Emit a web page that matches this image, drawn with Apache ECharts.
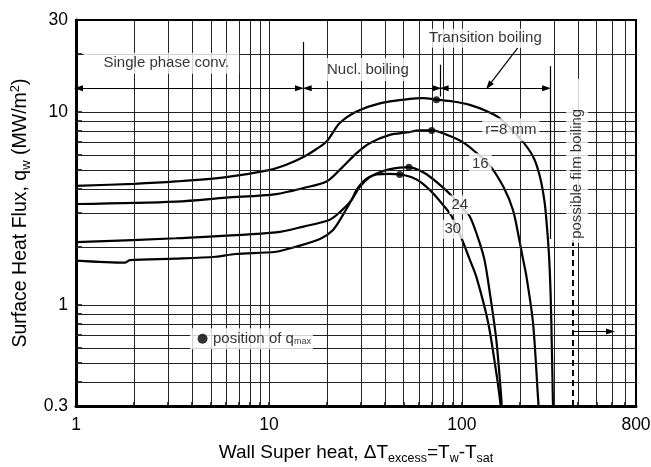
<!DOCTYPE html>
<html><head><meta charset="utf-8">
<script src="https://cdn.jsdelivr.net/npm/echarts@6/dist/echarts.min.js"></script>
<style>html,body{margin:0;padding:0;background:#fff}#c{width:651px;height:467px}</style>
</head><body><div id="c"></div>
<script>
// ---- data ----
const curveR8 = [[1,4.15],[2,4.25],[3.3,4.37],[6,4.6],[10,5.0],[12.3,5.33],[15.1,5.85],[17.5,6.4],[19.9,7.04],[23.3,8.77],[28.5,10.07],[37.6,11.1],[53.8,11.7],[63,11.8],[73.9,11.6],[90,11.35],[110,10.9],[135,10.1],[157,9.3],[200,7.33],[234,5.89],[254,4.64],[269,3.38],[278,2.36],[284,1.72],[289,1.1],[293,0.6],[297,0.3]];
const curveR16 = [[1,3.34],[3.3,3.44],[6,3.6],[10.9,3.76],[15.1,4.04],[19.9,4.37],[23.3,5.02],[28.5,6.13],[33.3,6.9],[42.3,7.62],[51.7,7.84],[60.7,8.03],[69.8,8.03],[90,7.4],[103,6.9],[116.8,6.25],[139,5.33],[164,4.11],[184,3.12],[198,2.22],[206,1.8],[216,1.42],[234,0.81],[248,0.34],[250,0.3]];
const curveR24 = [[1,2.12],[3.3,2.22],[10.9,2.38],[15.1,2.55],[20.7,2.77],[23.5,3.05],[26.8,3.5],[29.6,4.1],[33.3,4.6],[37,4.85],[42,5.05],[47.7,5.16],[53.2,5.18],[60,5.0],[66,4.75],[77,4.2],[88.3,3.7],[100,3.2],[110,2.88],[121,2.25],[131,1.72],[139,1.2],[151,0.66],[160,0.336],[161,0.3]];
const curveR30 = [[1,1.70],[1.8,1.66],[1.9,1.71],[3.3,1.74],[5.3,1.78],[6.7,1.84],[10.9,1.89],[13.9,2.01],[18.4,2.2],[21.5,2.45],[24.3,2.95],[26.8,3.5],[28.5,3.95],[30.8,4.37],[33,4.6],[36.2,4.75],[42,4.78],[47.7,4.75],[55,4.6],[62,4.3],[70.9,3.8],[80,3.3],[88.3,2.9],[100,2.2],[110,1.72],[119,1.4],[137,0.81],[151,0.445],[157,0.336],[159,0.3]];
const qmaxX = [73.9, 69.8, 53.2, 47.7];
const qmaxY = [11.6, 8.03, 5.18, 4.75];
const xTickLabels = [1, 10, 100, 800];
const yTickLabels = [0.3, 1, 10, 30];
const xTickValues = [1,2,3,4,5,6,7,8,9,10,20,30,40,50,60,70,80,90,100,200,300,400,500,600,700,800];
const yTickValues = [0.3,0.4,0.5,0.6,0.7,0.8,0.9,1,2,3,4,5,6,7,8,9,10,20,30];
const xGridValues = [2,3,4,5,6,7,8,9,10,20,30,40,50,60,70,80,90,100,200,300,400,500,600,700];
const yGridValues = [0.4,0.5,0.6,0.7,0.8,0.9,1,2,3,4,5,6,7,8,9,10,20];
// regime boundaries (x) and arrow level (y)
const boundaryX = [15.1, 77.6, 285.8];
const arrowY = 13.3;
const filmBoilingX = 375;
// ---- chart ----
const FF = '"Liberation Sans", Arial, sans-serif';
const chart = echarts.init(document.getElementById('c'), null, {renderer: 'canvas'});
const lbl = (text, x, y, extra) => ({
  value: [x, y],
  label: Object.assign({show: true, position: 'inside', formatter: text, color: '#000',
    fontSize: 15, fontFamily: FF, backgroundColor: '#fff', padding: [3, 4]}, extra || {})
});
const seg = (a, b, sym, style) => [{coord: a, symbol: sym[0]}, {coord: b, symbol: sym[1], lineStyle: style}];
const thin = {color: '#000', width: 1.2};
const curveStyle = {color: '#000', width: 2.2};
const curveSeries = [curveR8, curveR16, curveR24, curveR30].map((d, i) => ({
  type: 'line', name: 'c' + i, data: d, showSymbol: false, smooth: 0.3,
  lineStyle: curveStyle, z: 3, silent: true
}));
chart.setOption({
  animation: false,
  grid: {left: 76, right: 15, top: 20, bottom: 61, show: true, borderColor: '#000', borderWidth: 2, outerBoundsMode: 'none', containLabel: false},
  xAxis: {
    type: 'log', logBase: 10, min: 1, max: 800,
    axisLine: {lineStyle: {color: '#000', width: 3}},
    axisTick: {inside: true, length: 4, customValues: xTickValues, lineStyle: {color: '#000', width: 1.5}},
    axisLabel: {customValues: xTickLabels, fontSize: 17.5, color: '#000', margin: 10, fontFamily: FF, hideOverlap: false,
      formatter: v => String(+Number(v).toPrecision(3))},
    splitLine: {show: false},
    name: 'Wall Super heat, \u0394T{sub|excess}=T{sub|w}-T{sub|sat}',
    nameLocation: 'middle', nameGap: 35,
    nameTextStyle: {fontSize: 19, fontFamily: FF, color: '#000', lineHeight: 24,
      rich: {sub: {fontSize: 12.5, fontFamily: FF, color: '#000', lineHeight: 12, verticalAlign: 'bottom'}}}
  },
  yAxis: {
    type: 'log', logBase: 10, min: 0.3, max: 30,
    axisLine: {lineStyle: {color: '#000', width: 3}},
    axisTick: {inside: true, length: 6, customValues: yTickValues, lineStyle: {color: '#000', width: 1.5}},
    axisLabel: {customValues: yTickLabels, fontSize: 17.5, color: '#000', margin: 8, fontFamily: FF, hideOverlap: false,
      formatter: v => String(+Number(v).toPrecision(3))},
    splitLine: {show: false},
    name: 'Surface Heat Flux, q{sub|w} (MW/m{sup|2})',
    nameLocation: 'middle', nameGap: 41,
    nameTextStyle: {fontSize: 19.5, fontFamily: FF, color: '#000', lineHeight: 24,
      rich: {sub: {fontSize: 13, fontFamily: FF, color: '#000', lineHeight: 12, verticalAlign: 'bottom'},
             sup: {fontSize: 13, fontFamily: FF, color: '#000', lineHeight: 12, verticalAlign: 'top'}}}
  },
  series: [
    { // grid lines
      type: 'line', data: [], silent: true, z: 1,
      markLine: {silent: true, symbol: 'none', animation: false, label: {show: false},
        lineStyle: {color: '#222', width: 1, type: 'solid'},
        emphasis: {disabled: true},
        data: xGridValues.map(v => ({xAxis: v})).concat(yGridValues.map(v => ({yAxis: v})))}
    },
    ...curveSeries,
    { // q_max positions
      type: 'scatter', data: qmaxX.map((x, i) => [x, qmaxY[i]]), symbolSize: 7,
      itemStyle: {color: '#000'}, z: 6, silent: true
    },
    { // annotation lines and arrows
      type: 'line', data: [], silent: true, z: 4,
      markLine: {silent: true, animation: false, label: {show: false}, symbolSize: [6, 9],
        lineStyle: {color: '#000', width: 1.2, type: 'solid'},
        emphasis: {disabled: true},
        data: [
          seg([1.03, arrowY], [14.4, arrowY], ['triangle', 'triangle'], thin),
          seg([15.8, arrowY], [74.5, arrowY], ['triangle', 'triangle'], thin),
          seg([81, arrowY], [275, arrowY], ['triangle', 'triangle'], thin),
          seg([boundaryX[0], 5.85], [boundaryX[0], 23.1], ['none', 'none'], thin),
          seg([boundaryX[1], 12.05], [boundaryX[1], 17.6], ['none', 'none'], thin),
          seg([boundaryX[2], 2.2], [boundaryX[2], 17.3], ['none', 'none'], thin),
          seg([195, 21.5], [138, 13.7], ['none', 'triangle'], thin),
          seg([filmBoilingX, 0.3], [filmBoilingX, 2.18], ['none', 'none'], {color: '#000', width: 2, type: [6, 4]}),
          seg([filmBoilingX, 0.73], [590, 0.73], ['none', 'triangle'], thin)
        ]}
    },
    { // text labels
      type: 'scatter', symbolSize: 0, z: 5, silent: true,
      data: [
        lbl('Single phase conv.', 2.77, 17.9, {padding: [3, 10, 3, 20]}),
        lbl('Nucl. boiling', 32.6, 16.6, {padding: [4, 3]}),
        lbl('Transition boiling', 132.4, 24.1, {padding: [2, 6]}),
        lbl('r=8 mm', 179.4, 8.1, {padding: [4, 3]}),
        lbl('16', 124.7, 5.40, {padding: [3, 3]}),
        lbl('24', 97.6, 3.31, {padding: [2, 2]}),
        lbl('30', 89.8, 2.47, {padding: [2, 2]}),
        lbl('possible film boiling', 396, 5.59, {rotate: 90, padding: [3, 30, 4, 4]}),
        lbl('position of q{sub|max}', 3.9, 0.669, {position: 'right', distance: 0, padding: [3, 2, 3, 23],
          rich: {sub: {fontSize: 9, fontFamily: FF, color: '#000', lineHeight: 9, verticalAlign: 'bottom'}}})
      ]
    },
    { // legend dot
      type: 'scatter', data: [[4.53, 0.669]], symbolSize: 10, itemStyle: {color: '#000'}, z: 7, silent: true
    }
  ]
});
</script>
</body></html>
